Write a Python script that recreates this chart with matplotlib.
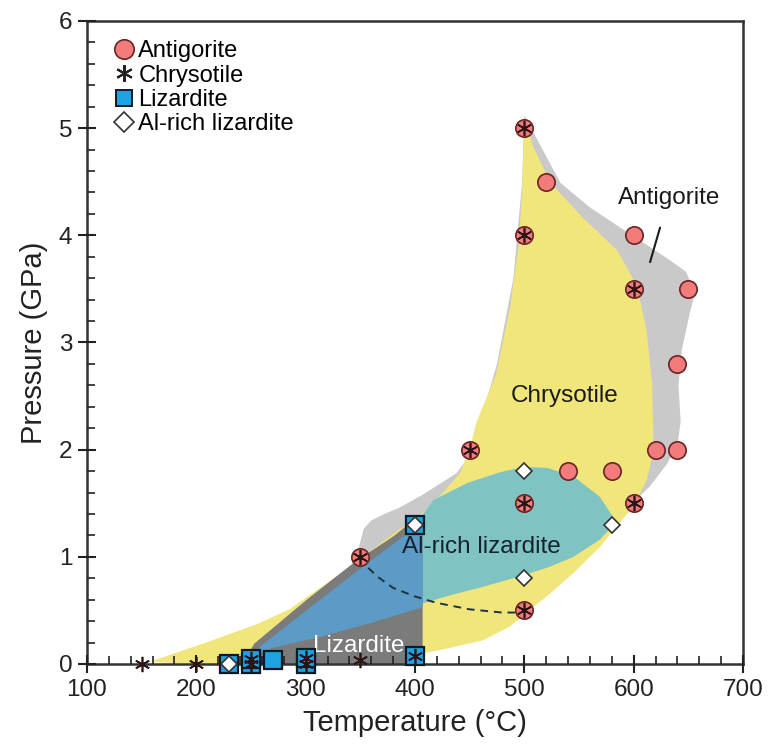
import matplotlib.pyplot as plt
from matplotlib.lines import Line2D
from matplotlib.ticker import MultipleLocator

plt.rcParams['font.family'] = ['Liberation Sans', 'DejaVu Sans']

# --- measured points (temperature °C, pressure GPa) ---
atg_T = [500, 520, 500, 600, 600, 650, 640, 620, 640, 450, 540, 580, 500, 600, 350, 500]
atg_P = [5.0, 4.5, 4.0, 4.0, 3.5, 3.5, 2.8, 2.0, 2.0, 2.0, 1.8, 1.8, 1.5, 1.5, 1.0, 0.5]

ctl_T = [150, 200, 350, 250, 250, 300, 300, 400, 500, 500, 600, 450, 500, 600, 350, 500]
ctl_P = [0.0, 0.0, 0.04, 0.0, 0.05, 0.0, 0.06, 0.07, 5.0, 4.0, 3.5, 2.0, 1.5, 1.5, 1.0, 0.5]

lz_T = [230, 250, 250, 270, 300, 300, 400, 400]
lz_P = [0.0, 0.0, 0.05, 0.04, 0.0, 0.06, 0.07, 1.3]

allz_T = [230, 400, 500, 580, 500]
allz_P = [0.0, 1.3, 1.8, 1.3, 0.8]

# --- stability fields, outlines ---
atg_field_T = [500, 512, 533, 560, 600, 630, 648, 656, 651, 644, 641, 643, 640, 630, 615, 601, 592,
               560, 450, 360, 346, 349, 353, 360, 372, 386, 407, 438, 448, 455, 475, 490, 498]
atg_field_P = [5.12, 4.89, 4.49, 4.26, 3.99, 3.79, 3.66, 3.46, 3.26, 2.93, 2.60, 2.26, 2.04, 1.86, 1.66, 1.52, 1.40,
               1.05, 0.95, 0.90, 0.96, 1.10, 1.26, 1.34, 1.40, 1.46, 1.58, 1.78, 1.92, 2.10, 2.80, 3.60, 4.50]

ctl_field_T = [500, 508, 524, 554, 585, 603, 612, 617, 618, 617, 612, 600, 589, 569, 545, 524, 508, 487,
               462, 432, 408, 400, 300, 200, 157, 209, 255, 285, 316, 343, 365, 385, 401, 423, 441, 450,
               456, 474, 487, 495, 498]
ctl_field_P = [5.10, 4.83, 4.49, 4.16, 3.86, 3.53, 3.10, 2.60, 2.10, 1.93, 1.72, 1.47, 1.34, 1.09, 0.85, 0.66, 0.53, 0.35,
               0.22, 0.15, 0.10, 0.06, 0.0, 0.0, 0.02, 0.20, 0.37, 0.51, 0.73, 0.93, 1.10, 1.25, 1.35, 1.57, 1.78, 2.0,
               2.25, 2.70, 3.33, 3.93, 4.43]

allz_field_T = [400, 417, 448, 478, 500, 521, 545, 569, 582, 580, 569, 545, 524, 500, 462, 432, 405, 390]
allz_field_P = [1.30, 1.53, 1.69, 1.79, 1.84, 1.83, 1.75, 1.56, 1.36, 1.28, 1.16, 1.00, 0.91, 0.83, 0.72, 0.64, 0.56, 0.80]

lz_outer_T = [249, 249, 253, 301, 346, 380, 396, 407, 407]
lz_outer_P = [0.0, 0.12, 0.19, 0.60, 0.96, 1.19, 1.32, 1.34, 0.0]

lz_inner_T = [255, 258, 307, 350, 388, 402, 407, 407, 362, 316, 270]
lz_inner_P = [0.10, 0.16, 0.55, 0.89, 1.18, 1.28, 1.30, 0.53, 0.39, 0.26, 0.15]

dash_T = [350, 355, 365, 380, 400, 420, 450, 480, 497]
dash_P = [1.0, 0.92, 0.82, 0.71, 0.63, 0.57, 0.51, 0.48, 0.48]

fig = plt.figure(figsize=(7.68, 7.56), dpi=100)
ax = fig.add_axes([87 / 768, 1 - 664 / 756, 656 / 768, 643 / 756])

# fields
ax.fill(atg_field_T, atg_field_P, color='#c9c9c9', lw=0, zorder=1)
ax.fill(ctl_field_T, ctl_field_P, color='#f1e67c', lw=0, zorder=2)
ax.fill(allz_field_T, allz_field_P, color='#80c3c3', lw=0, zorder=3)
ax.fill(lz_outer_T, lz_outer_P, color='#7b7b7b', lw=0, zorder=4)
ax.fill(lz_inner_T, lz_inner_P, color='#5b9bc6', lw=0, zorder=5)
ax.plot(dash_T, dash_P, ls=(0, (4, 3)), color='#1d3340', lw=1.4, zorder=6)

# field labels
ax.text(537, 2.5, 'Chrysotile', fontsize=17.5, ha='center', va='center', color='#1a1a1a', zorder=7)
ax.text(461, 1.09, 'Al-rich lizardite', fontsize=17.5, ha='center', va='center', color='#15232e', zorder=7)
ax.text(349, 0.17, 'Lizardite', fontsize=17.5, ha='center', va='center', color='white', zorder=7)
ax.annotate('Antigorite', xy=(615, 3.75), xytext=(632, 4.35), fontsize=17.5, ha='center', va='center',
            color='#1a1a1a', zorder=7,
            arrowprops=dict(arrowstyle='-', color='#1a1a1a', lw=1.5, shrinkA=12, shrinkB=0))

# data points
ax.plot(lz_T, lz_P, 's', ms=12.5, mfc='#1ea2e0', mec='#0f1a24', mew=1.6, ls='none', zorder=10, clip_on=False)
ax.plot(atg_T, atg_P, 'o', ms=12.5, mfc='#f27b7b', mec='#6b2424', mew=1.2, ls='none', zorder=11, clip_on=False)
ax.plot(ctl_T, ctl_P, marker=(6, 2, 0), ms=11, mec='#2b1414', mew=1.2, ls='none', zorder=12, clip_on=False)
ax.plot(allz_T, allz_P, 'D', ms=8.5, mfc='white', mec='#333333', mew=1.2, ls='none', zorder=13, clip_on=False)

# axes
ax.set_xlim(100, 700)
ax.set_ylim(0, 6)
ax.xaxis.set_major_locator(MultipleLocator(100))
ax.xaxis.set_minor_locator(MultipleLocator(20))
ax.yaxis.set_major_locator(MultipleLocator(1))
ax.yaxis.set_minor_locator(MultipleLocator(0.2))
ax.tick_params(which='major', direction='inout', length=13, width=1.5, color='#222222',
               labelsize=17.5, labelcolor='#222222', pad=4)
ax.tick_params(which='minor', direction='in', length=6, width=1.2, color='#222222')
for sp in ax.spines.values():
    sp.set_linewidth(1.8)
    sp.set_color('#333333')
    sp.set_zorder(8)
ax.xaxis.set_zorder(8)
ax.yaxis.set_zorder(8)
ax.set_xlabel('Temperature (°C)', fontsize=21, color='#222222', labelpad=6)
ax.set_ylabel('Pressure (GPa)', fontsize=21, color='#222222', labelpad=8)

handles = [
    Line2D([], [], marker='o', ls='none', ms=14, mfc='#f27b7b', mec='#6b2424', mew=1.2),
    Line2D([], [], marker=(6, 2, 0), ls='none', ms=12, mec='#222222', mew=1.5),
    Line2D([], [], marker='s', ls='none', ms=12, mfc='#1ea2e0', mec='#0f1a24', mew=1.4),
    Line2D([], [], marker='D', ls='none', ms=10, mfc='white', mec='#333333', mew=1.2),
]
ax.legend(handles, ['Antigorite', 'Chrysotile', 'Lizardite', 'Al-rich lizardite'],
          loc='upper left', bbox_to_anchor=(0.008, 1.003), frameon=False, fontsize=17,
          handlelength=0.9, handletextpad=0.15, labelspacing=0.1, borderaxespad=0.5)

fig.savefig('out.png', dpi=100)
